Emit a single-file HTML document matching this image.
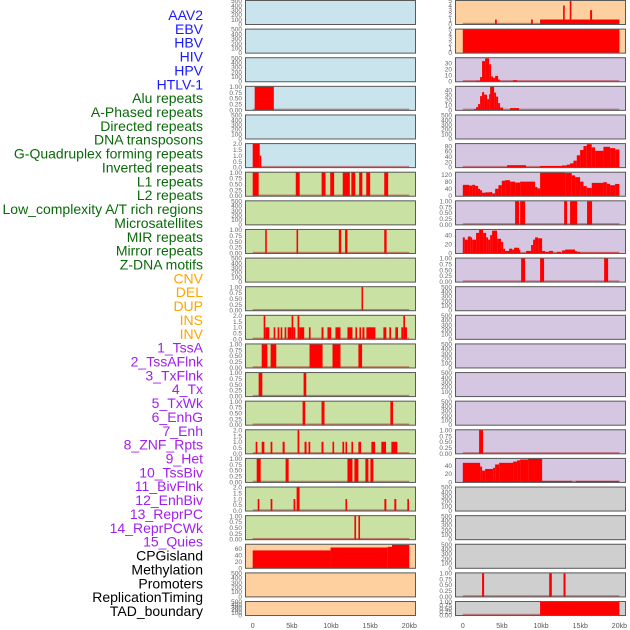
<!DOCTYPE html>
<html><head><meta charset="utf-8"><style>
body{margin:0;background:#fff;width:630px;height:630px;overflow:hidden}
svg{display:block}
text{font-family:"Liberation Sans",sans-serif}
</style></head><body>
<svg id="c" width="630" height="630"></svg>
<script>
const trackLabels=["AAV2","EBV","HBV","HIV","HPV","HTLV-1","Alu repeats","A-Phased repeats","Directed repeats","DNA transposons","G-Quadruplex forming repeats","Inverted repeats","L1 repeats","L2 repeats","Low_complexity A/T rich regions","Microsatellites","MIR repeats","Mirror repeats","Z-DNA motifs","CNV","DEL","DUP","INS","INV","1_TssA","2_TssAFlnk","3_TxFlnk","4_Tx","5_TxWk","6_EnhG","7_Enh","8_ZNF_Rpts","9_Het","10_TssBiv","11_BivFlnk","12_EnhBiv","13_ReprPC","14_ReprPCWk","15_Quies","CPGisland","Methylation","Promoters","ReplicationTiming","TAD_boundary"];
const labelGroups=[6,13,5,15,5];
const xTicks=[0,5,10,15,20];
const xTickLabels=["0","5kb","10kb","15kb","20kb"];
const leftBg=["b","b","b","b","b","b","g","g","g","g","g","g","g","g","g","g","g","g","g","o","o","o"];
const rightBg=["o","o","p","p","p","p","p","p","p","p","p","p","p","p","p","p","p","x","x","x","x","x"];
const leftScale=["E","E","E","U","E","T","U","E","U","E","U","T","U","U","U","T","U","T","U","C","E","E"];
const rightScale=["A","A","H","L","E","G","R","U","M","U","E","E","E","E","E","U","S","E","E","E","U","U"];
const leftSeries=[[],[],[],
[[0.25,2.7,1]],[],
[[0,0.9,2],[0.9,1.1,1]],
[[0,0.76,1],[5.5,6.0,1],[8.8,9.3,1],[9.9,10.4,1],[11.5,12.4,1],[12.6,13.1,1],[13.6,14.0,1],[14.5,15.0,1],[16.8,17.3,1]],
[],
[[1.6,1.8,1],[5.6,5.8,1],[11.0,11.3,1],[11.8,12.1,1],[16.8,17.1,1]],
[],
[[13.9,14.1,1]],
[[1.4,1.61,2],[1.61,2.12,1],[2.68,2.89,1],[3.18,3.4,1],[3.57,3.78,1],[4.08,4.29,1],[4.46,4.97,1],[4.97,5.18,2],[5.18,5.44,1],[5.73,5.95,2],[5.95,6.58,1],[7.18,7.39,1],[8.79,9.04,1],[9.55,10.02,1],[10.57,11.21,1],[12.1,12.74,1],[13.12,13.33,1],[13.63,13.84,1],[14.01,14.27,1],[14.52,15.67,1],[16.69,17.07,1],[17.45,17.67,1],[18.22,18.56,1],[18.98,19.24,1],[19.24,19.45,2],[19.45,19.7,1]],
[[1.15,1.87,1],[2.29,3.01,1],[7.26,8.92,1],[10.19,11.21,1],[13.5,13.97,1]],
[[0.76,1.23,1],[6.5,6.84,1]],
[[6.37,6.71,1],[8.79,9.17,1],[17.58,17.92,1]],
[[0.38,0.59,1],[1.15,1.49,1],[2.29,2.51,1],[3.82,4.08,1],[5.73,5.95,2],[6.62,6.88,1],[7.13,7.35,1],[8.79,9.04,1],[10.19,10.4,1],[11.46,11.68,1],[11.85,12.06,1],[12.61,12.82,1],[13.5,13.84,1],[15.16,15.63,1],[16.43,17.03,1],[17.71,18.47,1]],
[[0.51,1.02,1],[4.2,4.59,1],[12.1,12.74,1],[12.99,13.5,1],[14.39,14.78,1],[15.03,15.41,1]],
[[0.64,0.85,1],[2.29,2.51,1],[5.22,5.44,1],[5.61,5.99,2],[11.85,12.06,1],[16.82,17.07,1],[18.09,18.34,1],[19.75,19.96,1]],
[[12.99,13.2,1],[13.5,13.71,1]],
[[0,9.94,54],[9.94,17.24,63],[17.24,17.79,65],[17.79,20,71]],
[],[]];
const rightSeries=[
[[4.12,4.34,1],[8.72,8.94,1],[9.87,20,1],[12.81,13.02,4],[13.66,13.87,5],[16.26,16.51,3]],
[[0,20,5]],
[[1.7,2.21,1],[2.21,2.46,7],[2.46,2.85,33],[2.85,3.36,37.5],[3.36,3.61,28],[3.61,3.87,8],[3.87,4.13,6],[4.13,4.51,9],[4.51,4.76,3],[6.42,6.93,2]],
[[1.44,1.7,2],[1.7,1.95,6],[1.95,2.21,12],[2.21,2.46,28],[2.46,2.72,36],[2.72,3.1,31],[3.1,3.36,22],[3.36,3.49,32],[3.49,4.0,47],[4.0,4.25,35],[4.25,4.51,27],[4.51,4.76,14],[4.76,5.15,5],[6.04,7.19,4]],
[],
[[5.66,8.08,8],[9.87,12.64,5],[12.64,13.28,7],[13.28,13.7,10],[13.7,14.13,15],[14.13,14.56,25],[14.56,14.98,45],[14.98,15.41,65],[15.41,15.83,80],[15.83,16.47,87],[16.47,16.9,75],[16.9,17.96,62],[17.96,18.81,77],[18.81,19.45,72],[19.45,20,67]],
[[0,0.8,62],[0.8,1.19,58],[1.19,1.57,62],[1.57,1.95,56],[1.95,2.21,40],[2.21,2.46,32],[2.46,2.85,18],[2.85,3.49,20],[3.49,3.74,22],[3.74,4.13,14],[4.13,4.55,40],[4.55,4.98,60],[4.98,5.4,85],[5.4,6.04,88],[6.04,6.68,80],[6.68,7.32,75],[7.32,9.23,80],[9.23,9.53,50],[9.53,9.87,42],[9.87,13.07,130],[13.07,13.92,128],[13.92,14.34,115],[14.34,14.98,105],[14.98,15.41,80],[15.41,15.83,55],[15.83,16.47,45],[16.47,17.96,73],[17.96,18.39,77],[18.39,18.81,68],[18.81,19.45,60],[19.45,20,67]],
[[6.68,7.19,1],[7.32,7.96,1],[12.94,13.32,1],[13.7,14.6,1],[15.87,16.51,1]],
[[0,0.26,35],[0.26,0.64,30],[0.64,1.02,37],[1.02,1.19,35],[1.19,1.7,30],[1.7,2.08,45],[2.08,2.59,52],[2.59,2.98,45],[2.98,3.23,35],[3.23,3.49,30],[3.49,3.74,40],[3.74,4.38,50],[4.38,4.89,32],[4.89,5.15,25],[5.15,5.4,10],[5.4,5.91,5],[5.91,6.3,10],[6.3,6.55,8],[6.55,7.19,12],[7.19,7.32,8],[8.08,8.72,5],[8.72,8.98,18],[8.98,9.23,30],[9.23,9.62,35],[9.62,10.13,33],[10.13,10.5,5],[10.5,11.02,3],[11.02,11.53,5],[12.04,12.55,3],[12.68,13.07,6],[13.07,14.34,8],[14.34,14.56,5],[14.56,14.98,3],[14.98,19.96,1]],
[[7.45,7.96,1],[9.87,10.38,1],[18.05,18.56,1]],
[],[],[],[],[],
[[2.08,2.59,1]],
[[0,2.21,47],[2.21,2.46,38],[2.46,2.85,28],[2.85,3.87,32],[3.87,4.13,35],[4.13,4.64,43],[4.64,6.42,47],[6.42,6.93,50],[6.93,7.32,53],[7.32,8.34,55],[8.34,10.13,57],[10.13,13.96,3],[14.47,20,3]],
[],[],[],
[[2.46,2.72,1],[11.03,11.37,1],[12.86,13.12,1]],
[[9.87,20,1]]];
const scaleTicks={E:[0,100,200,300,400,500],U:[0,0.25,0.5,0.75,1],T:[0,0.5,1,1.5,2],C:[0,20,40,60],A:[0,1,2,3,4,5],H:[0,10,20,30],L:[0,10,20,30,40],G:[0,20,40,60,80],R:[0,40,80,120],M:[0,20,40],S:[0,20,40]};
const scaleMax={E:500,U:1,T:2,C:72,A:5,H:38,L:47,G:88,R:131,M:52,S:57};
const scaleFmt={U:2,T:1};

const NS="http://www.w3.org/2000/svg";
const svg=document.getElementById("c");
const bgCol={b:"#c9e4ec",g:"#c9e1a3",o:"#fecf9f",p:"#d5c6e2",x:"#cfcfcf"};
const labCol=["#1a1aff","#0a6a0a","#ffa500","#a020f0","#000000"];
function mk(t,a,p){const e=document.createElementNS(NS,t);for(const k in a)e.setAttribute(k,a[k]);(p||svg).appendChild(e);return e;}
const cols=[{x0:245,x1:416,z:252.7},{x0:455,x1:626,z:462.8}];
const kbPx=7.83;
function xs(c,kb){return cols[c].z+kb*kbPx;}
function rowTop(i){return i*28.62;}
function rowH(i){return i===21?15:25;}

// labels
let gi=0,cnt=0;
trackLabels.forEach((t,i)=>{
  if(cnt>=labelGroups[gi]){gi++;cnt=0;}
  cnt++;
  const e=mk("text",{x:203,y:20+i*13.86,"text-anchor":"end","font-size":"14",fill:labCol[gi]});
  e.textContent=t;
  
  
});

function drawPanel(c,i,bg,sc,series){
  const g=mk("g",{});
  
  
  const top=rowTop(i),h=rowH(i),bot=top+h;
  const x0=cols[c].x0,x1=cols[c].x1;
  mk("rect",{x:x0,y:top,width:x1-x0,height:h,fill:bgCol[bg]},g);
  const ym=scaleMax[sc];
  const ys=v=>bot-0.8-(v/ym)*(h-1.6);
  scaleTicks[sc].forEach(v=>{
    const tt=mk("text",{x:x0-3,y:ys(v)+2.3,"text-anchor":"end","font-size":"6.5",fill:"#666"},g);
    tt.textContent=scaleFmt[sc]!==undefined?v.toFixed(scaleFmt[sc]):String(v);
    
    
  });
  if(series.length){
    const bl=mk("rect",{x:xs(c,0),y:bot-2.2,width:xs(c,20)-xs(c,0),height:1.6,fill:"#b03030",opacity:"0.55"},g);
    
    
  }
  series.forEach(s=>{
    const y=ys(s[2]);
    const r=mk("rect",{x:xs(c,s[0]),y:y,width:Math.max(1.2,xs(c,s[1])-xs(c,s[0])),height:bot-0.8-y,fill:"#ff0000"},g);
    
    
  });
  mk("rect",{x:x0+0.5,y:top+0.5,width:x1-x0-1,height:h-1,fill:"none",stroke:"#5a5a5a","stroke-width":"1"},g);
}
for(let i=0;i<22;i++){
  drawPanel(0,i,leftBg[i],leftScale[i],leftSeries[i]);
  drawPanel(1,i,rightBg[i],rightScale[i],rightSeries[i]);
}
[0,1].forEach(c=>{
  xTicks.forEach((v,k)=>{
    const t=mk("text",{x:xs(c,v),y:628,"text-anchor":"middle","font-size":"7",fill:"#555"});
    t.textContent=xTickLabels[k];
    
    
  });
});
</script>
</body></html>
